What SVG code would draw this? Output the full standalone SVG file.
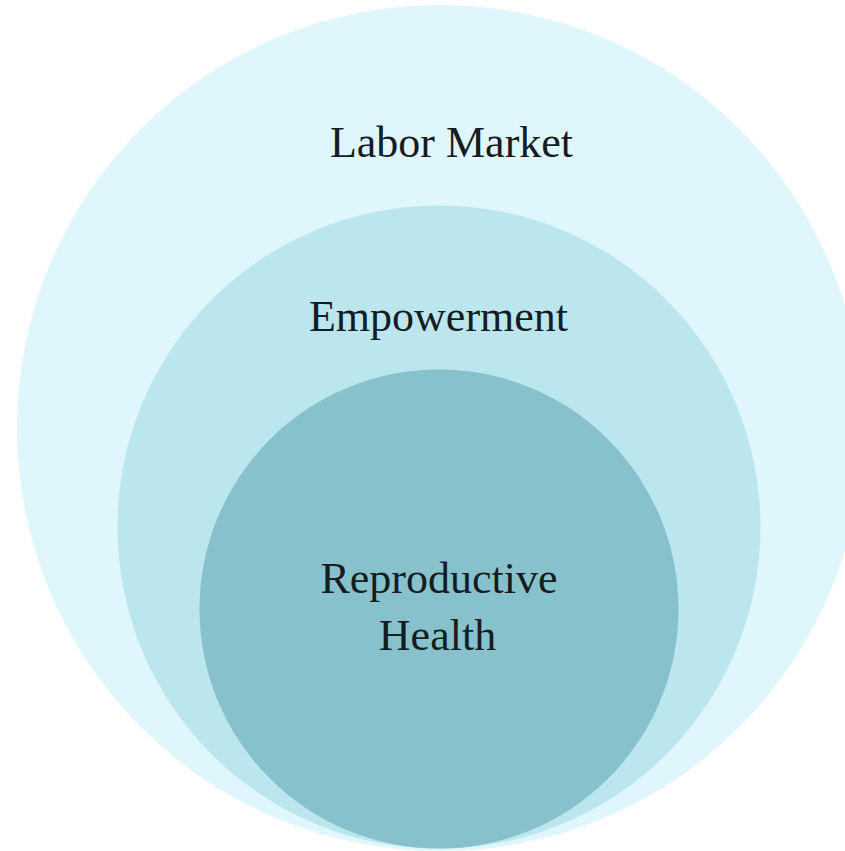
<svg xmlns="http://www.w3.org/2000/svg" width="845" height="851" viewBox="0 0 845 851">
<style>
.lbl{font-family:"Liberation Serif","DejaVu Serif",serif;font-size:44px;fill:#151c22;text-anchor:middle}
</style>
<rect width="845" height="851" fill="#ffffff"/>
<g id="labor-market">
<circle cx="440" cy="428" r="423" fill="#dff6fc"/>
<text class="lbl" x="451.5" y="157">Labor Market</text>
</g>
<g id="empowerment">
<circle cx="439" cy="527" r="321.5" fill="#bce6ee"/>
<text class="lbl" x="438.5" y="331">Empowerment</text>
</g>
<g id="reproductive-health">
<circle cx="439" cy="609" r="239.5" fill="#87c2cc"/>
<text class="lbl" x="439" y="593">Reproductive</text>
<text class="lbl" x="437.5" y="650">Health</text>
</g>
<g id="connectors"/>
</svg>
